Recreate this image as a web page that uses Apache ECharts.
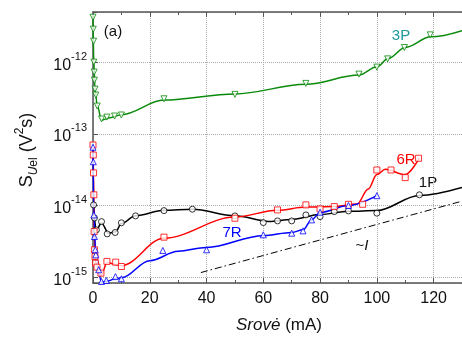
<!DOCTYPE html>
<html>
<head>
<meta charset="utf-8">
<script src="https://cdn.jsdelivr.net/npm/echarts@6/dist/echarts.min.js"></script>
<style>
  html, body { margin: 0; padding: 0; background: #fff; }
  #chart { width: 462px; height: 338px; }
</style>
</head>
<body>
<div id="chart"></div>
<script>
// x ticks / y decades
const xTicks = [0, 20, 40, 60, 80, 100, 120];
const yDecades = [-15, -14, -13, -12];

// 3P (green, down triangles)
const p3Markers = [
  [0, 4.23e-12], [0.1, 2.88e-12], [0.2, 1.96e-12], [0.3, 1.0e-12], [0.4, 7.26e-13],
  [0.5, 5.6e-13], [0.7, 4.2e-13], [1.0, 3.47e-13], [1.5, 2.44e-13], [3.0, 1.61e-13],
  [4.9, 1.71e-13], [7.6, 1.77e-13], [10, 1.83e-13], [25, 3.08e-13], [50, 3.55e-13],
  [75, 5.05e-13], [93.7, 6.8e-13], [100, 8.52e-13], [103.8, 1.11e-12], [109.7, 1.6e-12],
  [118.8, 2.4e-12]
];
const p3Curve = [
  [0, 4.4e-12], [0.3, 1.0e-12], [0.7, 4.2e-13], [1.5, 2.5e-13], [3.0, 1.55e-13],
  [6, 1.68e-13], [10, 1.85e-13], [25, 2.95e-13], [50, 3.6e-13], [75, 4.9e-13],
  [93.7, 6.6e-13], [100, 8.6e-13], [104, 1.12e-12], [110, 1.6e-12], [119, 2.25e-12],
  [130, 2.75e-12]
];

// 6R (red, squares)
const r6Markers = [
  [0, 6.98e-14], [0.1, 5.07e-14], [0.2, 2.85e-14], [0.3, 1.41e-14], [0.4, 4.33e-15],
  [0.5, 2.41e-15], [0.7, 1.94e-15], [0.9, 1.57e-15], [1.4, 1.38e-15], [2.8, 1.14e-15],
  [4.9, 1.66e-15], [8, 1.62e-15], [10, 1.41e-15], [25, 3.62e-15], [50, 6.65e-15],
  [65, 8.68e-15], [75, 1.02e-14], [80, 8.97e-15], [85, 9.66e-15], [90, 1.04e-14],
  [95, 1.04e-14], [100, 3.13e-14], [105, 3.13e-14], [110, 2.45e-14], [114.7, 4.56e-14]
];
const r6Curve = [
  [0, 6.98e-14], [0.2, 2.85e-14], [0.4, 4.33e-15], [0.9, 1.6e-15], [2.8, 1.05e-15],
  [5, 1.6e-15], [8, 1.5e-15], [10, 1.45e-15], [25, 3.5e-15], [50, 6.9e-15],
  [65, 8.6e-15], [75, 9.5e-15], [85, 9.7e-15], [93, 1.05e-14], [97, 1.7e-14],
  [100, 2.7e-14], [103, 3.2e-14], [110, 2.7e-14], [115, 4.6e-14]
];

// 7R (blue, triangles)
const r7Markers = [
  [0, 6.5e-14], [0.1, 4.08e-14], [0.3, 7.39e-15], [0.5, 3.69e-15], [0.8, 2.41e-15],
  [1.0, 2.05e-15], [2.0, 1.27e-15], [3.0, 8.71e-16], [4.7, 9.0e-16], [7.9, 1.02e-15],
  [10, 9.5e-16], [24.6, 2.36e-15], [40, 2.41e-15], [60, 3.9e-15], [70, 4.11e-15],
  [74, 4.43e-15], [77, 6.3e-15], [80, 8.07e-15], [90, 1.0e-14], [100, 1.37e-14]
];
const r7Curve = [
  [0, 6.5e-14], [0.3, 7.39e-15], [1.0, 2.05e-15], [3.0, 8.5e-16], [5, 8.8e-16],
  [8, 9.6e-16], [10, 9.8e-16], [20, 1.7e-15], [30, 2.3e-15], [40, 2.6e-15],
  [60, 3.8e-15], [70, 4.2e-15], [74, 4.6e-15], [77, 6.3e-15], [80, 8.0e-15],
  [90, 1.0e-14], [100, 1.37e-14]
];

// 1P (black, circles)
const p1Markers = [
  [0.2, 1.02e-14], [0.5, 6.71e-15], [1.2, 4.57e-15], [3, 5.97e-15], [5, 4.02e-15],
  [7.8, 4.2e-15], [10, 5.73e-15], [15, 7.16e-15], [25, 8.49e-15], [35, 8.88e-15],
  [50, 7.16e-15], [60, 5.78e-15], [65, 6.1e-15], [70, 6.1e-15], [75, 7.39e-15],
  [80, 7.0e-15], [85, 8.22e-15], [90, 8.41e-15], [100, 7.82e-15], [115, 1.41e-14]
];
const p1Curve = [
  [0.2, 1.02e-14], [1.2, 4.6e-15], [3, 5.7e-15], [5.5, 4.1e-15], [8, 4.3e-15],
  [10, 5.6e-15], [15, 7.2e-15], [25, 8.6e-15], [35, 8.9e-15], [50, 7.2e-15],
  [62, 6.0e-15], [70, 6.4e-15], [80, 7.5e-15], [90, 8.3e-15], [100, 8.5e-15],
  [115, 1.38e-14], [130, 1.78e-14]
];

// ~I guide line
const guideLine = [[38, 1.16e-15], [130, 1.15e-14]];

const chart = echarts.init(document.getElementById('chart'));

const curve = (data, color) => ({
  type: 'line', data, smooth: 0.35, smoothMonotone: 'x', showSymbol: false,
  lineStyle: { color, width: 1.5 }, silent: true, z: 2
});
const marks = (data, color, symbol, rotate) => ({
  type: 'scatter', data, symbol, symbolSize: 6, symbolRotate: rotate || 0,
  itemStyle: { color: '#fff', borderColor: color, borderWidth: 1 }, z: 3
});

const axisLineStyle = { color: '#555', width: 1.5 };

const option = {
  animation: false,
  grid: { left: 93, top: 12, right: -6, bottom: 55 },
  xAxis: [
    {
      type: 'value', min: 0, max: 130, interval: 20,
      axisLine: { lineStyle: axisLineStyle },
      axisTick: { inside: true, length: 5, lineStyle: { color: '#555' } },
      minorTick: { show: true, splitNumber: 2, length: 3, lineStyle: { color: '#555' } },
      axisLabel: {
        margin: 8, fontSize: 16, color: '#111', fontFamily: 'Liberation Sans',
        showMaxLabel: false,
        formatter: v => (xTicks.includes(v) ? String(v) : '')
      },
      splitLine: { lineStyle: { color: '#aaa', type: 'dotted', width: 1 } }
    },
    {
      type: 'value', position: 'top', min: 0, max: 130, interval: 20,
      axisLine: { lineStyle: axisLineStyle },
      axisTick: { inside: true, length: 5, lineStyle: { color: '#555' } },
      minorTick: { show: true, splitNumber: 2, length: 3, lineStyle: { color: '#555' } },
      axisLabel: { show: false },
      splitLine: { show: false }
    }
  ],
  yAxis: {
    type: 'log', logBase: 10, min: 8.3e-16, max: 5.0e-12,
    axisLine: { show: true, lineStyle: axisLineStyle },
    axisTick: { inside: true, length: 5, lineStyle: { color: '#555' } },
    minorTick: { show: true, splitNumber: 2, length: 3, lineStyle: { color: '#555' } },
    axisLabel: {
      margin: 6, showMinLabel: false, showMaxLabel: false,
      formatter: v => {
        const e = Math.round(Math.log10(v));
        return yDecades.includes(e) ? '{b|10}{e|' + e + '}' : '';
      },
      rich: {
        b: { fontSize: 16, color: '#111', fontFamily: 'Liberation Sans', verticalAlign: 'bottom', lineHeight: 22 },
        e: { fontSize: 11, color: '#111', fontFamily: 'Liberation Sans', verticalAlign: 'top', lineHeight: 22 }
      }
    },
    splitLine: { lineStyle: { color: '#aaa', type: 'dotted', width: 1 } }
  },
  series: [
    {
      type: 'line', data: guideLine, showSymbol: false, silent: true, z: 1,
      lineStyle: { color: '#000', width: 1, type: [7, 3, 1.5, 3] }
    },
    curve(p3Curve, '#0a8a0a'),
    curve(p1Curve, '#000'),
    curve(r6Curve, '#ff0000'),
    curve(r7Curve, '#0000ff'),
    marks(p3Markers, '#0a8a0a', 'triangle', 180),
    marks(p1Markers, '#000', 'circle'),
    marks(r6Markers, '#ff0000', 'rect'),
    marks(r7Markers, '#0000ff', 'triangle')
  ],
  graphic: [
    { type: 'text', x: 113, y: 32, style: { text: '(a)', fontSize: 15, fontFamily: 'Liberation Sans', fill: '#111', align: 'center', verticalAlign: 'middle' } },
    { type: 'text', x: 401, y: 36, style: { text: '3P', fontSize: 15, fontFamily: 'Liberation Sans', fill: '#1f9898', align: 'center', verticalAlign: 'middle' } },
    { type: 'text', x: 406, y: 160, style: { text: '6R', fontSize: 15, fontFamily: 'Liberation Sans', fill: '#ff0000', align: 'center', verticalAlign: 'middle' } },
    { type: 'text', x: 428, y: 183, style: { text: '1P', fontSize: 15, fontFamily: 'Liberation Sans', fill: '#111', align: 'center', verticalAlign: 'middle' } },
    { type: 'text', x: 232, y: 233, style: { text: '7R', fontSize: 15, fontFamily: 'Liberation Sans', fill: '#0000ff', align: 'center', verticalAlign: 'middle' } },
    {
      type: 'text', x: 362, y: 246,
      style: {
        text: '{n|~}{i|I}', align: 'center', verticalAlign: 'middle',
        rich: {
          n: { fontSize: 15, fontFamily: 'Liberation Sans', fill: '#111' },
          i: { fontSize: 15, fontFamily: 'Liberation Sans', fontStyle: 'italic', fill: '#111' }
        }
      }
    },
    {
      type: 'text', x: 279, y: 325,
      style: {
        text: '{i|Srovė}{n| (mA)}', align: 'center', verticalAlign: 'middle',
        rich: {
          i: { fontSize: 17, fontFamily: 'Liberation Sans', fontStyle: 'italic', fill: '#111' },
          n: { fontSize: 17, fontFamily: 'Liberation Sans', fill: '#111' }
        }
      }
    },
    {
      type: 'text', x: 27, y: 150, rotation: Math.PI / 2,
      style: {
        text: '{n|S}{u|U}{s|el}{n| (V}{p|2}{n|s)}', align: 'center', verticalAlign: 'middle',
        rich: {
          n: { fontSize: 18, fontFamily: 'Liberation Sans', fill: '#111', lineHeight: 26, verticalAlign: 'middle' },
          u: { fontSize: 12, fontFamily: 'Liberation Sans', fontStyle: 'italic', fill: '#111', lineHeight: 26, verticalAlign: 'bottom' },
          s: { fontSize: 12, fontFamily: 'Liberation Sans', fill: '#111', lineHeight: 26, verticalAlign: 'bottom' },
          p: { fontSize: 12, fontFamily: 'Liberation Sans', fill: '#111', lineHeight: 26, verticalAlign: 'top' }
        }
      }
    }
  ]
};

chart.setOption(option);
</script>
</body>
</html>
